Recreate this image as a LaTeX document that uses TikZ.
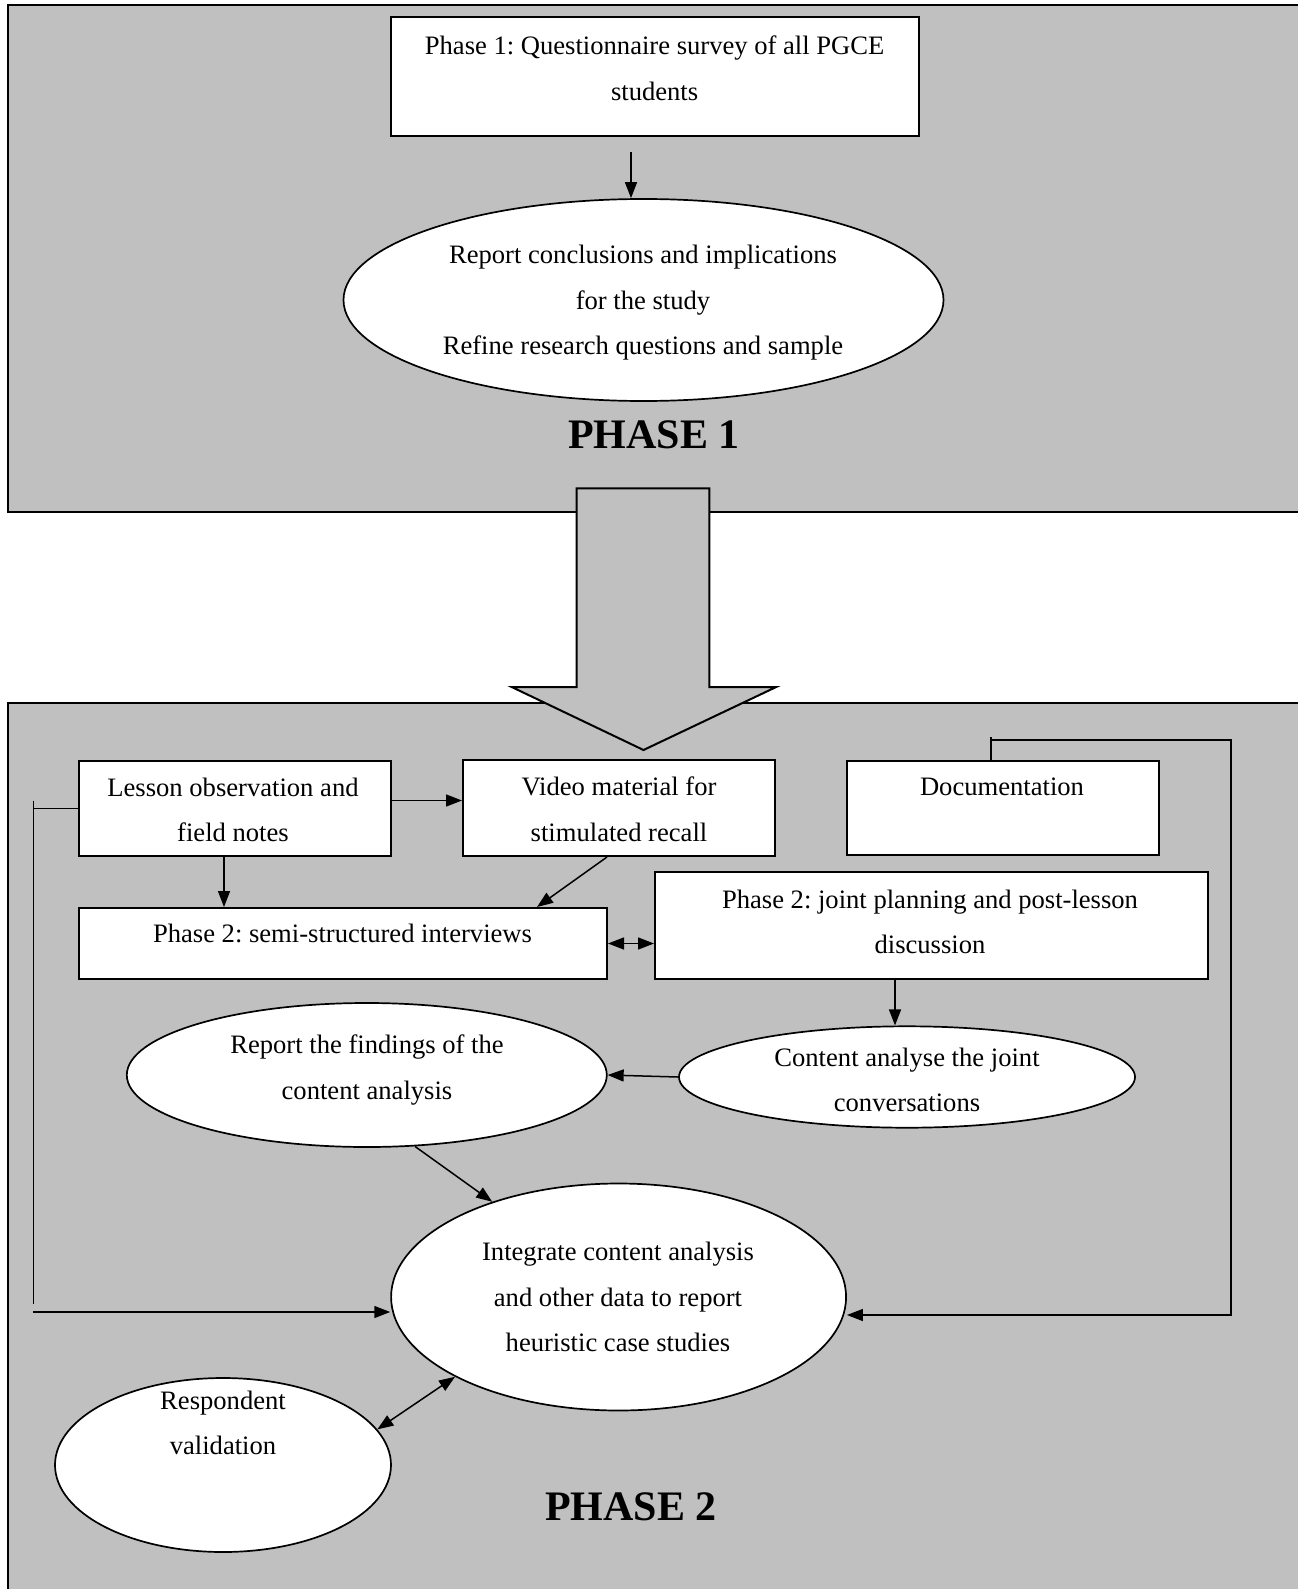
\documentclass[tikz,border=0pt]{standalone}
\usepackage{fontspec}
\setmainfont{Liberation Serif}
\usetikzlibrary{arrows.meta,shapes.geometric}
\definecolor{panelgray}{HTML}{C0C0C0}
\frenchspacing

\begin{document}
\begin{tikzpicture}[x=0.5pt,y=-0.5pt,
  panel/.style={draw, fill=panelgray, line width=1pt},
  boxnode/.style={draw, fill=white, line width=1pt, inner sep=0pt, rectangle},
  oval/.style={ellipse, draw, fill=white, line width=0.85pt, inner sep=0pt},
  lbl/.style={font=\fontsize{13.3}{22.8}\selectfont, align=center, inner sep=0pt},
  title/.style={font=\fontsize{21}{25}\selectfont\bfseries, inner sep=0pt},
  wire/.style={line width=0.75pt},
  conn/.style={line width=0.75pt, -{Triangle[length=8pt,width=6pt]}},
  bothconn/.style={line width=0.75pt, {Triangle[length=8pt,width=6pt]}-{Triangle[length=8pt,width=6pt]}}
]
\useasboundingbox (0,0) rectangle (1297,1589);

% ---------- the two phase panels ----------
\draw[panel] (8,5) rectangle (1320,512);
\draw[panel] (8,703) rectangle (1320,1620);

% ---------- phase 1 ----------
\node[boxnode, minimum width=264pt, minimum height=59.5pt] (q1) at (655,76.5) {};
\node[lbl] (q1t) at (654.6,68) {Phase 1: Questionnaire survey of all PGCE\\students};
\node[oval, minimum width=300pt, minimum height=101pt] (rep1) at (643.5,300) {};
\node[lbl] (rep1t) at (643,303) {Report conclusions and implications\\for the study\\Refine research questions and sample};
\node[title] (ph1) at (654,435) {PHASE 1};
\draw[conn] ([xshift=-12pt]q1.south |- 0,152) coordinate (q1out) -- (q1out |- rep1.north);

% ---------- transition arrow ----------
\draw[fill=panelgray, line width=1pt]
  (576.6,488.4) -- (709.3,488.4) -- (709.3,687) -- (776.2,687) -- (643.5,750)
  -- (511.7,687) -- (576.6,687) -- cycle;

% ---------- phase 2 boxes ----------
\node[boxnode, minimum width=156pt, minimum height=47.5pt] (lesson) at (235,808.5) {};
\node[lbl] (lessont) at (233,810) {Lesson observation and\\field notes};
\node[boxnode, minimum width=156pt, minimum height=48pt] (video) at (619,808) {};
\node[lbl] (videot) at (619,809.5) {Video material for\\stimulated recall};
\node[boxnode, minimum width=156pt, minimum height=47pt] (doc) at (1003,808) {};
\node[lbl] (doct) at (1002,787) {Documentation};
\node[boxnode, minimum width=264pt, minimum height=35.5pt] (semi) at (343,943.5) {};
\node[lbl] (semit) at (342.5,933) {Phase 2: semi-structured interviews};
\node[boxnode, minimum width=276.5pt, minimum height=53.5pt] (joint) at (931.5,925.5) {};
\node[lbl] (jointt) at (930,922) {Phase 2: joint planning and post-lesson\\discussion};

% ---------- phase 2 ovals ----------
\node[oval, minimum width=240pt, minimum height=72pt] (report) at (366.8,1075) {};
\node[lbl] (reportt) at (367,1070) {Report the findings of the\\content analysis};
\node[oval, minimum width=228pt, minimum height=50.7pt] (content) at (907,1077) {};
\node[lbl] (contentt) at (907,1080) {Content analyse the joint\\conversations};
\node[oval, minimum width=227.5pt, minimum height=113.5pt] (integ) at (618.6,1297) {};
\node[lbl] (integt) at (618,1297) {Integrate content analysis\\and other data to report\\heuristic case studies};
\node[oval, minimum width=168pt, minimum height=87pt] (resp) at (223,1465) {};
\node[lbl] (respt) at (223,1423) {Respondent\\validation};
\node[title] (ph2) at (631,1507) {PHASE 2};

% ---------- phase 2 connectors ----------
\draw[conn] ([yshift=4pt]lesson.east) -- ([yshift=4pt]lesson.east -| video.west);
\draw[conn] ([xshift=-5.5pt]lesson.south) -- ([xshift=-5.5pt]lesson.south |- semi.north);
\draw[conn] ([xshift=-6pt]video.south) -- ([xshift=97pt]semi.north);
\draw[bothconn] (semi.east) -- (semi.east -| joint.west);
\draw[conn] ([xshift=-18.25pt]joint.south) -- ([xshift=-18.25pt]joint.south |- content.north);
\draw[conn] (content.west) -- (report.east);
\draw[conn] (report.-56.7) -- (integ.143.9);
\draw[bothconn] (integ.206.6) -- (resp.13.4);

% left feedback line from the lesson notes
\coordinate (fbLtop) at (33.4,800.5);
\coordinate (fbLbot) at (33.4,1304);
\coordinate (fbLstart) at (33.4,1312);
\draw[wire] (lesson.west) -- (lesson.west -| fbLtop);
\draw[wire] (fbLtop) -- (fbLbot);
\draw[conn] (fbLstart) -- (fbLstart -| integ.west);

% right feedback line from the documentation
\coordinate (fbRspur) at (991,737);
\coordinate (fbRstart) at (991,740);
\coordinate (fbRcorner) at (1231,740);
\coordinate (fbRdown) at (1231,1315);
\draw[wire] ([xshift=-6pt]doc.north) -- (fbRspur);
\draw[conn] (fbRstart) -- (fbRcorner) -- (fbRdown) -- (fbRdown -| integ.east);
\end{tikzpicture}
\end{document}
